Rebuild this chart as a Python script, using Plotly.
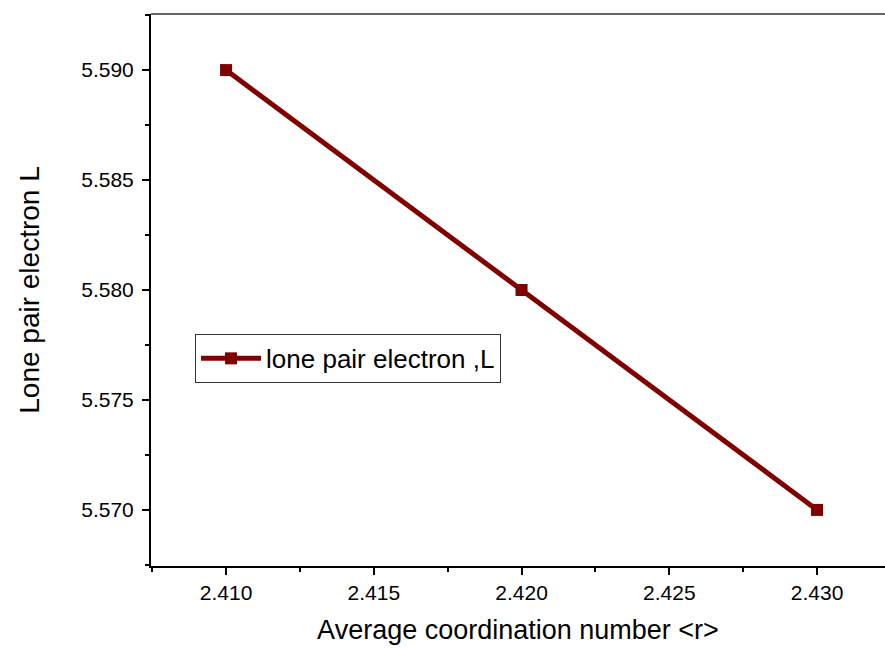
import plotly.graph_objects as go

coord_number = [2.410, 2.420, 2.430]
lone_pair = [5.590, 5.580, 5.570]
series_name = "lone pair electron ,L"

color = "#800000"

fig = go.Figure()
fig.add_trace(go.Scatter(
    x=coord_number, y=lone_pair, mode="lines+markers", name=series_name,
    line=dict(color=color, width=5),
    marker=dict(symbol="square", size=12, color=color),
))

font = "Liberation Sans, Arial, sans-serif"
fig.update_layout(
    width=885, height=650,
    margin=dict(l=151, r=0, t=14, b=84),
    plot_bgcolor="white", paper_bgcolor="white",
    font=dict(family=font, color="black"),
    showlegend=True,
    legend=dict(
        x=0.06, y=0.376, xanchor="left", yanchor="middle",
        bgcolor="white", bordercolor="#333", borderwidth=1,
        font=dict(size=26, family=font),
        itemwidth=60, tracegroupgap=0,
    ),
    xaxis=dict(
        range=[2.40746, 2.43230], tickvals=[2.410, 2.415, 2.420, 2.425, 2.430],
        tickformat=".3f", ticks="outside", ticklen=7, tickwidth=2, tickcolor="black",
        showline=True, linewidth=2, linecolor="black", showgrid=False, zeroline=False,
        tickfont=dict(size=21), ticklabelstandoff=0,
        minor=dict(tickvals=[2.4075, 2.4125, 2.4175, 2.4225, 2.4275], ticks="outside",
                   ticklen=4, tickwidth=2, tickcolor="black", showgrid=False),
        title=dict(text="Average coordination number <r>", font=dict(size=27), standoff=17),
    ),
    yaxis=dict(
        range=[5.56745, 5.59255], tickvals=[5.570, 5.575, 5.580, 5.585, 5.590],
        tickformat=".3f", ticks="outside", ticklen=7, tickwidth=2, tickcolor="black",
        showline=True, linewidth=2, linecolor="black", showgrid=False, zeroline=False,
        tickfont=dict(size=21), ticklabelstandoff=4,
        minor=dict(tickvals=[5.5675, 5.5725, 5.5775, 5.5825, 5.5875, 5.5925], ticks="outside",
                   ticklen=4, tickwidth=2, tickcolor="black", showgrid=False),
        title=dict(text="Lone pair electron L", font=dict(size=28), standoff=33),
    ),
    shapes=[dict(type="line", xref="paper", yref="paper", x0=0, x1=1, y0=1, y1=1,
                 line=dict(color="#333", width=1.5))],
)

fig.write_html("out.html")
